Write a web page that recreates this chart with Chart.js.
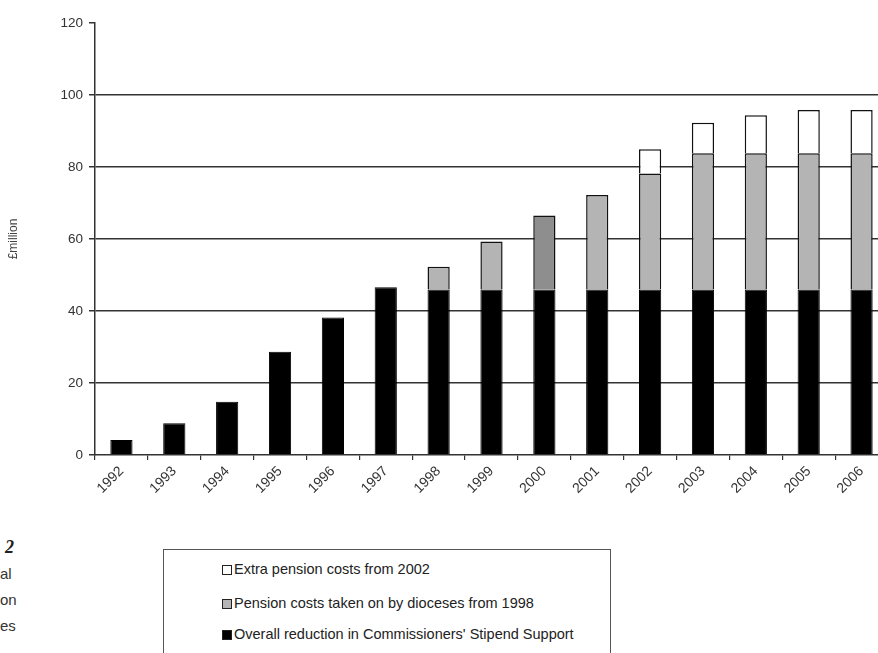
<!DOCTYPE html>
<html lang="en">
<head>
<meta charset="utf-8">
<script src="https://cdn.jsdelivr.net/npm/chart.js@4"></script>
<style>
    html, body { margin: 0; padding: 0; background: #fff; overflow: hidden; }
    body { width: 878px; height: 653px; position: relative; font-family: "Liberation Sans", Arial, sans-serif; }
    #wrap { position: absolute; left: 0; top: 0; width: 892px; height: 520px; }
    #legend { position: absolute; left: 163px; top: 549px; width: 448px; height: 140px;
              border: 1.5px solid #555; box-sizing: border-box; }
    .item { position: absolute; left: 58px; font-size: 14.5px; color: #222; white-space: nowrap; line-height: 16px; }
    .item span.sw { display: inline-block; width: 8px; height: 8px; border: 1px solid #222;
                    margin-right: 2px; vertical-align: -1px; }
    .cap { position: absolute; left: 0; font-size: 15px; color: #333; }
    .fig { position: absolute; left: 5px; top: 537px; font: italic bold 18px "Liberation Serif", serif; color: #222; }
</style>
</head>
<body>
<div id="wrap"><canvas id="myChart"></canvas></div>
<div id="legend"></div>
<div class="fig">2</div>
<div class="cap" style="top:565px">al</div>
<div class="cap" style="top:591px">on</div>
<div class="cap" style="top:617px">es</div>

<script>
    // £ million
    const years = ['1992', '1993', '1994', '1995', '1996', '1997', '1998', '1999',
                   '2000', '2001', '2002', '2003', '2004', '2005', '2006']
    const stipendCut = [4.2, 8.8, 14.8, 28.7, 38.2, 46.6, 46, 46, 46, 46, 46, 46, 46, 46, 46]
    const dioceseCosts = [0, 0, 0, 0, 0, 0, 6.3, 13.3, 20.5, 26.2, 32.2, 37.8, 37.8, 37.8, 37.8]
    const extraCosts = [0, 0, 0, 0, 0, 0, 0, 0, 0, 0, 6.7, 8.5, 10.6, 12, 12]
    const seriesNames = ['Overall reduction in Commissioners\' Stipend Support',
                         'Pension costs taken on by dioceses from 1998',
                         'Extra pension costs from 2002']
    const yTicks = [0, 20, 40, 60, 80, 100, 120]

    const grey = years.map(y => y === '2000' ? '#8e8e8e' : '#b4b4b4')
    const fills = ['#000000', '#b4b4b4', '#ffffff']

    const ctx = document.getElementById('myChart')
    let chart = new Chart(ctx, {
        type: 'bar',
        data: {
            labels: years,
            datasets: [
                { label: seriesNames[0], data: stipendCut, backgroundColor: fills[0], borderColor: '#000', borderWidth: 1 },
                { label: seriesNames[1], data: dioceseCosts, backgroundColor: grey, borderColor: '#111', borderWidth: 1.5 },
                { label: seriesNames[2], data: extraCosts, backgroundColor: fills[2], borderColor: '#111', borderWidth: 1.5 }
            ]
        },
        options: {
            responsive: true,
            maintainAspectRatio: false,
            animation: false,
            layout: { padding: { top: 23, right: 4, left: 0, bottom: 0 } },
            datasets: { bar: { barPercentage: 0.42, categoryPercentage: 1 } },
            plugins: { legend: { display: false }, tooltip: { enabled: false } },
            scales: {
                x: {
                    stacked: true,
                    afterFit: s => { s.height = 65 },
                    border: { color: '#333', width: 1.5 },
                    grid: { drawOnChartArea: false, drawTicks: true, tickLength: 5, color: '#333', lineWidth: 1.2 },
                    ticks: {
                        maxRotation: 45, minRotation: 45, padding: 3,
                        color: '#333', font: { family: 'Liberation Sans', size: 14 }
                    }
                },
                y: {
                    stacked: true,
                    min: 0, max: 120,
                    afterFit: s => { s.width = 95 },
                    afterBuildTicks: s => { s.ticks = yTicks.map(v => ({ value: v })) },
                    border: { color: '#333', width: 1.5 },
                    grid: {
                        color: c => (c.tick && (c.tick.value === 120 || c.tick.value === 0)) ? 'rgba(0,0,0,0)' : '#333',
                        tickColor: '#333',
                        lineWidth: 1.5,
                        tickLength: 6
                    },
                    ticks: { padding: 6, color: '#333', font: { family: 'Liberation Sans', size: 13.5 } },
                    title: {
                        display: true, text: '£million', color: '#444', padding: { top: 6, bottom: 0 },
                        font: { family: 'Liberation Sans', size: 12 }
                    }
                }
            }
        }
    })

    // legend box: top series first, like the original
    const legend = document.getElementById('legend')
    const rows = [19, 53, 84]
    chart.data.datasets.slice().reverse().forEach((ds, i) => {
        const d = document.createElement('div')
        d.className = 'item'
        d.style.top = (rows[i] - 8) + 'px'
        const sw = document.createElement('span')
        sw.className = 'sw'
        sw.style.background = i === 1 ? '#b4b4b4' : ds.backgroundColor
        d.appendChild(sw)
        d.appendChild(document.createTextNode(ds.label))
        legend.appendChild(d)
    })
</script>
</body>
</html>
